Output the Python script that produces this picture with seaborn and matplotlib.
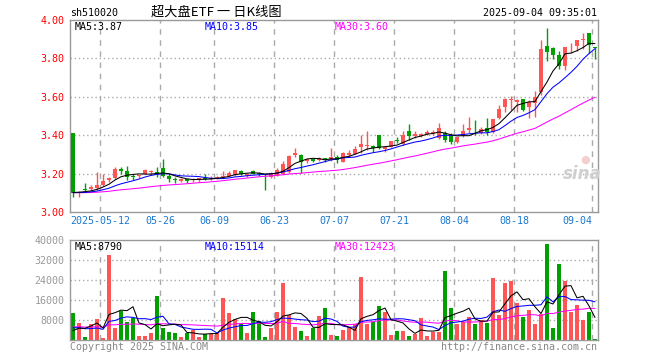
import numpy as np
import pandas as pd
import matplotlib
matplotlib.use("Agg")
import matplotlib.pyplot as plt
import seaborn as sns

sns.set_style("white")
plt.rcParams['font.family'] = ['DejaVu Sans Mono', 'Noto Sans CJK SC']

# ---------------- data ----------------
opens = [3.41, 3.10, 3.12, 3.12, 3.123, 3.14, 3.167, 3.175, 3.225, 3.214,
         3.19, 3.185, 3.20, 3.21, 3.207, 3.228, 3.19, 3.168, 3.163, 3.170,
         3.165, 3.166, 3.178, 3.172, 3.176, 3.18, 3.19, 3.195, 3.214, 3.19,
         3.214, 3.205, 3.198, 3.18, 3.19, 3.20, 3.21, 3.296, 3.297, 3.265,
         3.274, 3.27, 3.279, 3.271, 3.285, 3.262, 3.298, 3.303, 3.34, 3.342,
         3.343, 3.40, 3.328, 3.34, 3.372, 3.352, 3.42, 3.395, 3.398, 3.405,
         3.41, 3.386, 3.413, 3.398, 3.366, 3.398, 3.427, 3.44, 3.413, 3.436,
         3.418, 3.488, 3.545, 3.585, 3.575, 3.587, 3.545, 3.57, 3.627, 3.865,
         3.852, 3.818, 3.762, 3.862, 3.865, 3.896, 3.931, 3.855]
highs = [3.41, 3.11, 3.15, 3.14, 3.21, 3.20, 3.18, 3.235, 3.232, 3.24,
         3.20, 3.195, 3.224, 3.219, 3.233, 3.275, 3.20, 3.18, 3.176, 3.172,
         3.176, 3.178, 3.20, 3.19, 3.185, 3.214, 3.214, 3.22, 3.218, 3.205,
         3.217, 3.21, 3.20, 3.21, 3.227, 3.264, 3.296, 3.335, 3.30, 3.276,
         3.276, 3.288, 3.281, 3.335, 3.297, 3.31, 3.323, 3.344, 3.40, 3.42,
         3.35, 3.40, 3.34, 3.372, 3.389, 3.42, 3.458, 3.42, 3.41, 3.427,
         3.425, 3.462, 3.42, 3.41, 3.392, 3.46, 3.496, 3.48, 3.445, 3.49,
         3.485, 3.557, 3.596, 3.605, 3.59, 3.59, 3.583, 3.632, 3.896, 3.96,
         3.857, 3.839, 3.86, 3.878, 3.898, 3.931, 3.931, 3.86]
lows = [3.08, 3.08, 3.105, 3.115, 3.115, 3.138, 3.155, 3.17, 3.20, 3.167,
        3.167, 3.176, 3.198, 3.193, 3.18, 3.18, 3.158, 3.153, 3.155, 3.150,
        3.155, 3.158, 3.165, 3.168, 3.172, 3.176, 3.185, 3.19, 3.193, 3.18,
        3.198, 3.185, 3.115, 3.175, 3.185, 3.20, 3.205, 3.285, 3.205, 3.253,
        3.26, 3.266, 3.262, 3.268, 3.257, 3.26, 3.288, 3.30, 3.305, 3.323,
        3.31, 3.33, 3.31, 3.338, 3.357, 3.35, 3.375, 3.385, 3.39, 3.40,
        3.40, 3.38, 3.367, 3.355, 3.36, 3.39, 3.41, 3.40, 3.408, 3.40,
        3.41, 3.483, 3.523, 3.53, 3.52, 3.528, 3.488, 3.497, 3.61, 3.786,
        3.795, 3.745, 3.74, 3.826, 3.839, 3.85, 3.826, 3.795]
closes = [3.10, 3.105, 3.115, 3.13, 3.14, 3.16, 3.178, 3.225, 3.215, 3.18,
          3.18, 3.193, 3.22, 3.213, 3.20, 3.19, 3.172, 3.166, 3.172, 3.163,
          3.172, 3.175, 3.172, 3.178, 3.182, 3.19, 3.205, 3.218, 3.198, 3.20,
          3.20, 3.197, 3.193, 3.205, 3.217, 3.25, 3.29, 3.305, 3.262, 3.274,
          3.267, 3.281, 3.275, 3.288, 3.271, 3.308, 3.308, 3.328, 3.352, 3.345,
          3.332, 3.332, 3.34, 3.37, 3.368, 3.40, 3.398, 3.405, 3.406, 3.418,
          3.418, 3.437, 3.375, 3.362, 3.39, 3.424, 3.436, 3.435, 3.43, 3.418,
          3.483, 3.536, 3.588, 3.589, 3.583, 3.532, 3.575, 3.597, 3.849, 3.833,
          3.818, 3.762, 3.858, 3.867, 3.896, 3.90, 3.87, 3.853]
volumes = [10900, 6900, 1300, 6400, 8400, 900, 34000, 4900, 11600, 7300,
           8700, 1600, 1600, 2900, 17600, 4900, 3300, 2900, 1300, 2700,
           4000, 1300, 2400, 2400, 2700, 16900, 10900, 8300, 6300, 2900,
           11300, 7700, 1300, 4900, 11300, 22700, 10000, 5300, 3700, 1600,
           4900, 9600, 12900, 2000, 1600, 4000, 5300, 6300, 25300, 6400,
           7300, 13600, 11300, 2000, 3600, 3600, 1600, 2400, 8900, 1600,
           3300, 3300, 27700, 12900, 6400, 7300, 9300, 6400, 8000, 6900,
           24900, 10000, 22700, 23700, 14900, 9300, 12000, 6400, 10300, 38400,
           4900, 30400, 23700, 11300, 14000, 8000, 11300, 400]
# estimated sessions before the visible window (only feed the moving averages)
pre_closes = [3.09, 3.10, 3.11, 3.10, 3.09, 3.10, 3.10, 3.11, 3.10, 3.09,
              3.10, 3.11, 3.10, 3.10, 3.09, 3.10, 3.11, 3.10, 3.10, 3.09,
              3.10, 3.11, 3.10, 3.10, 3.09, 3.10, 3.10, 3.11, 3.10]
pre_volumes = [5200, 6100, 4800, 5600, 7000, 5300, 4600, 5900, 6400, 5000,
               4700, 5500, 6200, 5100, 4900, 5800, 6000, 5200, 4500, 5600,
               6300, 5400, 5900, 6200, 6100, 2000, 1500, 1800, 2500]

date_labels = ["2025-05-12", "05-26", "06-09", "06-23", "07-07",
               "07-21", "08-04", "08-18", "09-04"]
date_index = [5, 15, 24, 34, 44, 54, 64, 74, 87]
price_ticks = [3.00, 3.20, 3.40, 3.60, 3.80, 4.00]
vol_ticks = [8000, 16000, 24000, 32000, 40000]

# ---------------- styling ----------------
RED = '#ff5555'
GREEN = '#00a000'
GRID = '#aaaaaa'
FRAME = '#999999'
W, H = 660, 360
LW = 0.75

fig = plt.figure(figsize=(6.6, 3.6), dpi=100)
ax = fig.add_axes([70 / W, 148 / H, 528 / W, 192 / H])
axv = fig.add_axes([70 / W, 20 / H, 528 / W, 100 / H])

n = len(closes)
idx = np.arange(n)
o = np.array(opens); c = np.array(closes)
hi = np.array(highs); lo = np.array(lows)
up = c >= o
cols = [RED if u else GREEN for u in up]

df = pd.DataFrame({'i': idx, 'close': c, 'vol': volumes})
allc = pd.Series(pre_closes + closes)
allv = pd.Series(pre_volumes + volumes)
k = len(pre_closes)
for nwin in (5, 10, 30):
    df[f'ma{nwin}'] = allc.rolling(nwin, min_periods=1).mean().iloc[k:].values
    df[f'vma{nwin}'] = allv.rolling(nwin, min_periods=1).mean().iloc[k:].values

for a in (ax, axv):
    a.set_xlim(-0.5, n - 0.5)
    for s in a.spines.values():
        s.set_color(FRAME)
        s.set_linewidth(1)
    for di in date_index:
        a.axvline(di - 0.5, color=GRID, lw=1, ls=(0, (4, 4)), zorder=0)

ax.set_ylim(3.0, 4.0)
for p in price_ticks[1:-1]:
    ax.axhline(p, color=GRID, lw=1, ls=(0, (1, 2)), zorder=0)
axv.set_ylim(0, 40000)
for v in vol_ticks[:-1]:
    axv.axhline(v, color=GRID, lw=1, ls=(0, (1, 2)), zorder=0)

# candles
ax.vlines(idx, lo, hi, colors=cols, lw=1, zorder=2)
body_h = np.maximum(np.abs(c - o), 0.005)
ax.bar(idx, body_h, bottom=np.minimum(o, c), width=0.8, color=cols,
       linewidth=0, zorder=3)

# moving averages (price)
sns.lineplot(data=df, x='i', y='ma30', ax=ax, color='#ff00ff', lw=LW, zorder=4)
sns.lineplot(data=df, x='i', y='ma10', ax=ax, color='#0000ff', lw=LW, zorder=4)
sns.lineplot(data=df, x='i', y='ma5', ax=ax, color='black', lw=LW, zorder=5)

# volume
axv.bar(idx, volumes, width=0.8, color=cols, linewidth=0, zorder=2)
sns.lineplot(data=df, x='i', y='vma30', ax=axv, color='#ff00ff', lw=LW, zorder=4)
sns.lineplot(data=df, x='i', y='vma10', ax=axv, color='#0000ff', lw=LW, zorder=4)
sns.lineplot(data=df, x='i', y='vma5', ax=axv, color='black', lw=LW, zorder=5)

# ticks
FS = 7.2
ax.set_yticks(price_ticks)
ax.set_yticklabels([f"{p:.2f}" for p in price_ticks])
ax.tick_params(axis='y', length=0, pad=4, labelcolor='#ff0000', labelsize=FS)
ax.set_xticks([d - 0.5 for d in date_index])
ax.set_xticklabels(date_labels)
ax.tick_params(axis='x', length=0, pad=3, labelcolor='#1a78d0', labelsize=FS)
ax.get_xticklabels()[-1].set_ha('right')
axv.set_yticks(vol_ticks)
axv.set_yticklabels([str(v) for v in vol_ticks])
axv.tick_params(axis='y', length=0, pad=4, labelcolor='#999999', labelsize=FS)
axv.set_xticks([])
for a in (ax, axv):
    a.set_xlabel('')
    a.set_ylabel('')
    a.grid(False)


def ftext(x, y, s, **kw):
    fig.text(x / W, 1 - y / H, s, **kw)


ftext(70, 13, "sh510020", fontsize=FS, va='center', ha='left', color='black')
ftext(216, 12, "超大盘ETF 一 日K线图", fontsize=9.5, va='center', ha='center',
      color='black', family=['Noto Sans CJK SC', 'DejaVu Sans'])
ftext(597, 13, "2025-09-04 09:35:01", fontsize=FS, va='center', ha='right',
      color='black')
ftext(75, 27, "MA5:3.87", fontsize=FS, va='center', color='black')
ftext(205, 27, "MA10:3.85", fontsize=FS, va='center', color='#0000ff')
ftext(335, 27, "MA30:3.60", fontsize=FS, va='center', color='#ff00ff')
ftext(75, 247, "MA5:8790", fontsize=FS, va='center', color='black')
ftext(205, 247, "MA10:15114", fontsize=FS, va='center', color='#0000ff')
ftext(335, 247, "MA30:12423", fontsize=FS, va='center', color='#ff00ff')
ftext(70, 347, "Copyright 2025 SINA.COM", fontsize=FS, va='center',
      color='#888888')
ftext(597, 347, "http://finance.sina.com.cn", fontsize=FS, va='center',
      ha='right', color='#888888')
ftext(582, 174, "sina", fontsize=12, va='center', ha='center', color='#cfcfcf',
      style='italic', fontweight='bold', family='DejaVu Sans')
ftext(585, 160, "●", fontsize=8, va='center', ha='center', color='#f2d0d0',
      family='DejaVu Sans')

fig.savefig("out.png", dpi=100)
